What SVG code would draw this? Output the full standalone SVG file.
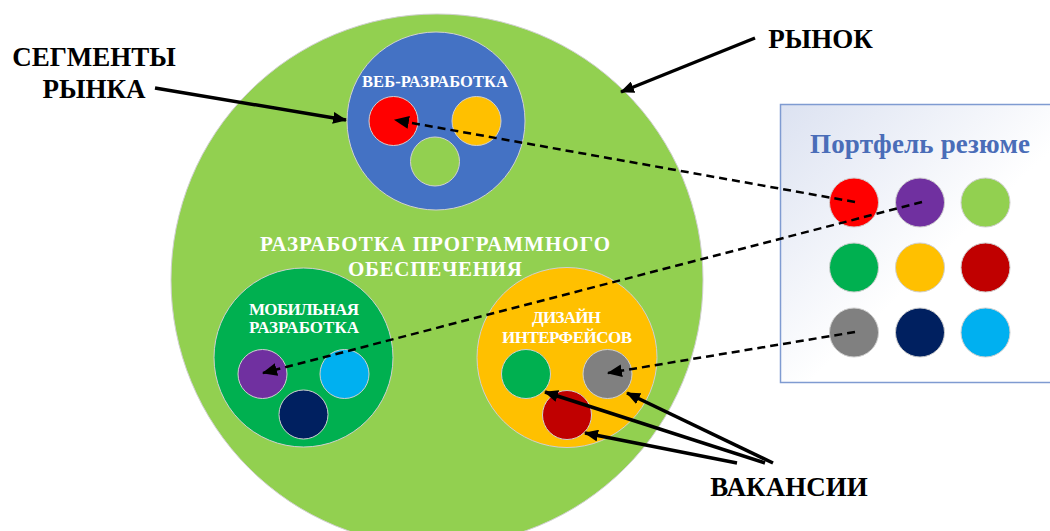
<svg xmlns="http://www.w3.org/2000/svg" width="1050" height="531" viewBox="0 0 1050 531">
<defs>
<linearGradient id="boxg" x1="0" y1="0" x2="1" y2="1">
<stop offset="0" stop-color="#DCE2F1"/>
<stop offset="0.55" stop-color="#FFFFFF"/>
<stop offset="1" stop-color="#FFFFFF"/>
</linearGradient>
<marker id="ah" viewBox="0 0 14 12" refX="13" refY="6" markerWidth="14" markerHeight="12" markerUnits="userSpaceOnUse" orient="auto">
<path d="M0,0 L14,6 L0,12 z" fill="#000"/>
</marker>
<marker id="dh" viewBox="0 0 14 12" refX="13" refY="6" markerWidth="15" markerHeight="13" markerUnits="userSpaceOnUse" orient="auto">
<path d="M0,0 L14,6 L0,12 z" fill="#000"/>
</marker>
</defs>
<style>
.c{stroke:#D0D0D0;stroke-width:1}
.lbl{font-family:"Liberation Serif","Times New Roman",serif;font-weight:bold;fill:#FFFFFF;text-anchor:middle}
.big{font-family:"Liberation Serif","Times New Roman",serif;font-weight:bold;fill:#000000;text-anchor:middle}
.solid{stroke:#000;stroke-width:3.5;fill:none;marker-end:url(#ah)}
.dash{stroke:#000;stroke-width:2.5;fill:none;stroke-dasharray:8 5;marker-end:url(#dh)}
</style>
<rect width="1050" height="531" fill="#FFFFFF"/>

<g id="market">
<circle class="c" cx="437" cy="280" r="266" fill="#92D050"/>
<text class="lbl" x="435" y="251" font-size="21" textLength="350" lengthAdjust="spacing">РАЗРАБОТКА ПРОГРАММНОГО</text>
<text class="lbl" x="435" y="276" font-size="21" textLength="174" lengthAdjust="spacing">ОБЕСПЕЧЕНИЯ</text>
</g>

<g id="web">
<circle class="c" cx="436" cy="121" r="89" fill="#4472C4"/>
<text class="lbl" x="435" y="87" font-size="16.5" textLength="146" lengthAdjust="spacing">ВЕБ-РАЗРАБОТКА</text>
<circle class="c" cx="393.5" cy="121" r="24.5" fill="#FF0000"/>
<circle class="c" cx="476.5" cy="121" r="24.5" fill="#FFC000"/>
<circle class="c" cx="435" cy="161.5" r="24.5" fill="#92D050"/>
</g>

<g id="mobile">
<circle class="c" cx="303.5" cy="357.5" r="89.5" fill="#00B050"/>
<text class="lbl" x="304" y="315" font-size="17" textLength="110" lengthAdjust="spacing">МОБИЛЬНАЯ</text>
<text class="lbl" x="304" y="333" font-size="17" textLength="110" lengthAdjust="spacing">РАЗРАБОТКА</text>
<circle class="c" cx="262.5" cy="374" r="24.5" fill="#7030A0"/>
<circle class="c" cx="344.5" cy="374" r="24.5" fill="#00B0F0"/>
<circle class="c" cx="303.5" cy="414.5" r="24.5" fill="#002060"/>
</g>

<g id="design">
<circle class="c" cx="567" cy="357.5" r="90" fill="#FFC000"/>
<text class="lbl" x="566.5" y="323" font-size="17" textLength="69" lengthAdjust="spacing">ДИЗАЙН</text>
<text class="lbl" x="567" y="343" font-size="17" textLength="130" lengthAdjust="spacing">ИНТЕРФЕЙСОВ</text>
<circle class="c" cx="526" cy="374" r="24.5" fill="#00B050"/>
<circle class="c" cx="607.5" cy="374" r="24.5" fill="#808080"/>
<circle class="c" cx="567" cy="415" r="24.5" fill="#C00000"/>
</g>

<g id="portfolio">
<rect x="780.5" y="104.5" width="290" height="278" fill="url(#boxg)" stroke="#7F9BD1" stroke-width="1.5"/>
<text x="920" y="153" font-family="'Liberation Serif','Times New Roman',serif" font-weight="bold" font-size="27" fill="#4A6DB8" text-anchor="middle" textLength="220" lengthAdjust="spacing">Портфель резюме</text>
<circle class="c" cx="854" cy="202.5" r="24.5" fill="#FF0000"/>
<circle class="c" cx="920" cy="202.5" r="24.5" fill="#7030A0"/>
<circle class="c" cx="985.5" cy="202.5" r="24.5" fill="#92D050"/>
<circle class="c" cx="854" cy="267.5" r="24.5" fill="#00B050"/>
<circle class="c" cx="920" cy="267.5" r="24.5" fill="#FFC000"/>
<circle class="c" cx="985.5" cy="267.5" r="24.5" fill="#C00000"/>
<circle class="c" cx="854" cy="332.5" r="24.5" fill="#808080"/>
<circle class="c" cx="920" cy="332.5" r="24.5" fill="#002060"/>
<circle class="c" cx="985.5" cy="332.5" r="24.5" fill="#00B0F0"/>
</g>

<g id="label-segments">
<text class="big" x="94" y="65.5" font-size="27">СЕГМЕНТЫ</text>
<text class="big" x="94" y="97.5" font-size="27">РЫНКА</text>
</g>
<g id="label-market">
<text class="big" x="820.5" y="47.5" font-size="27">РЫНОК</text>
</g>
<g id="label-vacancies">
<text class="big" x="789" y="495.5" font-size="27">ВАКАНСИИ</text>
</g>

<g id="connectors">
<line class="solid" x1="155" y1="88" x2="346" y2="120"/>
<line class="solid" x1="755" y1="38" x2="621" y2="92"/>
<line class="solid" x1="773" y1="463" x2="627" y2="393"/>
<line class="solid" x1="765" y1="463" x2="545" y2="392"/>
<line class="solid" x1="737" y1="463" x2="585" y2="433"/>
<line class="dash" x1="855" y1="202" x2="395" y2="120"/>
<line class="dash" x1="922" y1="202" x2="263" y2="373"/>
<line class="dash" x1="855" y1="332" x2="608" y2="373"/>
</g>
</svg>
